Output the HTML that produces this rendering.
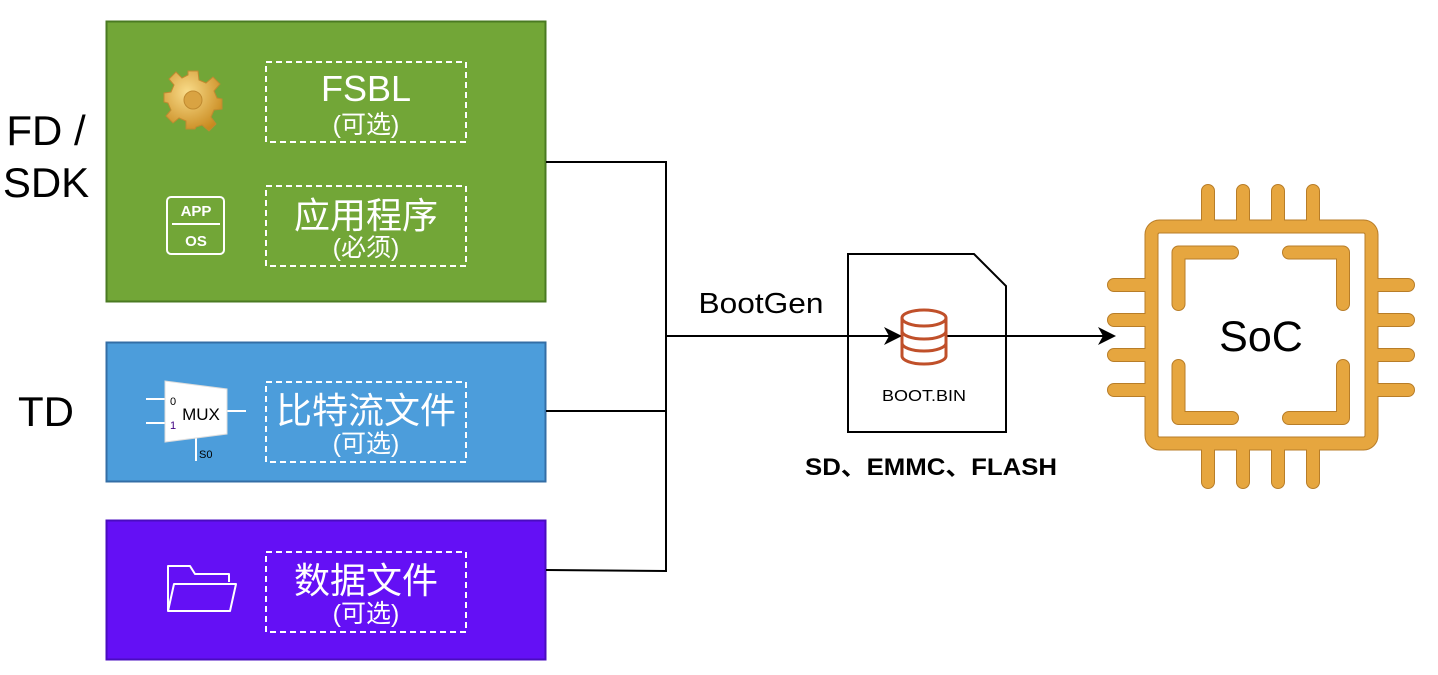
<!DOCTYPE html>
<html><head><meta charset="utf-8"><style>
body{margin:0;background:#fff;}
svg text{font-family:"Liberation Sans","Noto Sans CJK SC",sans-serif;}
</style></head><body>
<svg width="1438" height="670" viewBox="0 0 1438 670" xmlns="http://www.w3.org/2000/svg">
<defs>
<radialGradient id="g" cx="0.4" cy="0.35" r="0.7"><stop offset="0" stop-color="#f9dc8a"/><stop offset="1" stop-color="#c98a1f"/></radialGradient>
</defs>
<!-- left labels -->
<text x="46" y="145" font-size="42" text-anchor="middle">FD /</text>
<text x="46" y="197" font-size="42" text-anchor="middle">SDK</text>
<text x="46" y="426" font-size="42" text-anchor="middle">TD</text>
<!-- boxes -->
<rect x="106.5" y="21.5" width="439" height="280" fill="#72a637" stroke="#4a7a22" stroke-width="2"/>
<rect x="106.5" y="342.5" width="439" height="139" fill="#4c9ddb" stroke="#336ea6" stroke-width="2"/>
<rect x="106.5" y="520.5" width="439" height="139" fill="#6410f5" stroke="#4a0cc0" stroke-width="2"/>
<g fill="none" stroke="#fff" stroke-width="2" stroke-dasharray="6,4">
<rect x="266" y="62" width="200" height="80"/>
<rect x="266" y="186" width="200" height="80"/>
<rect x="266" y="382" width="200" height="80"/>
<rect x="266" y="552" width="200" height="80"/>
</g>
<g fill="#fff" text-anchor="middle">
<text x="366" y="101" font-size="36">FSBL</text>
<text x="366" y="133" font-size="25">(可选)</text>
<text x="366" y="228" font-size="36">应用程序</text>
<text x="366" y="256" font-size="25">(必须)</text>
<text x="366" y="423" font-size="36">比特流文件</text>
<text x="366" y="452" font-size="25">(可选)</text>
<text x="366" y="593" font-size="36">数据文件</text>
<text x="366" y="622" font-size="25">(可选)</text>
</g>
<!-- gear -->
<g transform="translate(193,100)">
<g fill="url(#g)" stroke="#c08a30" stroke-width="1">
<path d="M-5,-29 L5,-29 L6,-20 L13,-17 L20,-23 L27,-16 L21,-9 L24,-2 L29,-1 L29,9 L21,10 L18,17 L23,24 L16,31 L9,25 L3,27 L2,29 L-7,29 L-7,21 L-14,18 L-20,23 L-27,16 L-22,10 L-25,3 L-29,2 L-29,-7 L-22,-8 L-19,-15 L-24,-21 L-17,-28 L-11,-22 L-5,-25 Z"/>
<circle cx="0" cy="0" r="9" fill="#d9a342"/>
</g></g>
<!-- APP/OS -->
<rect x="167" y="197" width="57" height="57" rx="4" fill="none" stroke="#fff" stroke-width="2"/>
<text x="196" y="216" font-size="15" font-weight="bold" fill="#fff" text-anchor="middle">APP</text>
<line x1="172" y1="224" x2="220" y2="224" stroke="#fff" stroke-width="2"/>
<text x="196" y="246" font-size="15" font-weight="bold" fill="#fff" text-anchor="middle">OS</text>
<!-- MUX -->
<g stroke="#fff" stroke-width="2"><line x1="146" y1="399" x2="166" y2="399"/><line x1="146" y1="423" x2="166" y2="423"/><line x1="227" y1="411" x2="246" y2="411"/><line x1="196" y1="438" x2="196" y2="461"/></g>
<polygon points="165,381 227,389 227,434 165,442" fill="#fff" stroke="#ddd"/>
<text x="170" y="405" font-size="11" fill="#000">0</text>
<text x="170" y="429" font-size="11" fill="#400080">1</text>
<text x="201" y="420" font-size="17" fill="#000" text-anchor="middle">MUX</text>
<text x="199" y="458" font-size="11" fill="#000">S0</text>
<!-- folder -->
<path d="M168,611 L168,566 L190,566 L195,574 L229,574 L229,582 M168,611 L174,584 L236,584 L230,611 Z" fill="none" stroke="#fff" stroke-width="2" stroke-linejoin="round"/>
<!-- connectors -->
<g stroke="#000" stroke-width="2" fill="none">
<polyline points="546,162 666,162 666,571 546,570"/>
<line x1="546" y1="411" x2="666" y2="411"/>
<line x1="666" y1="336" x2="1105" y2="336"/>
</g>
<path d="M884,327 L902,336 L884,345 L889,336 Z" fill="#000"/>
<path d="M1098,327 L1116,336 L1098,345 L1103,336 Z" fill="#000"/>
<text x="761" y="313" font-size="29" text-anchor="middle" textLength="125" lengthAdjust="spacingAndGlyphs">BootGen</text>
<!-- doc -->
<path d="M848,254 L974,254 L1006,286 L1006,432 L848,432 Z" fill="none" stroke="#000" stroke-width="2"/>
<line x1="848" y1="336" x2="1006" y2="336" stroke="#000" stroke-width="2"/>
<g fill="#fff" stroke="#c0502a" stroke-width="3">
<path d="M902,318 L902,356 A22,8 0 0 0 946,356 L946,318"/>
<ellipse cx="924" cy="318" rx="22" ry="8"/>
<path d="M902,331 A22,8 0 0 0 946,331 M902,343 A22,8 0 0 0 946,343" fill="none"/>
</g>
<text x="924" y="401" font-size="16" text-anchor="middle" textLength="84" lengthAdjust="spacingAndGlyphs">BOOT.BIN</text>
<text x="931" y="475" font-size="24" font-weight="bold" text-anchor="middle" textLength="252" lengthAdjust="spacingAndGlyphs">SD、EMMC、FLASH</text>
<!-- chip -->
<g stroke="#b87d28" stroke-width="14" stroke-linecap="round" fill="none">
<path d="M1208,191 V222 M1243,191 V222 M1278,191 V222 M1313,191 V222 M1208,450 V482 M1243,450 V482 M1278,450 V482 M1313,450 V482 M1114,285 H1146 M1114,320 H1146 M1114,355 H1146 M1114,390 H1146 M1377,285 H1408 M1377,320 H1408 M1377,355 H1408 M1377,390 H1408"/>
<rect x="1151.5" y="226.5" width="220" height="217" rx="8"/>
<path d="M1178.5,304 V252.5 H1232 M1178.5,366 V418 H1232 M1343,304 V252.5 H1289 M1343,366 V418 H1289" stroke-linejoin="round"/>
</g>
<g stroke="#e6a63f" stroke-width="12" stroke-linecap="round" fill="none">
<path d="M1208,191 V222 M1243,191 V222 M1278,191 V222 M1313,191 V222 M1208,450 V482 M1243,450 V482 M1278,450 V482 M1313,450 V482 M1114,285 H1146 M1114,320 H1146 M1114,355 H1146 M1114,390 H1146 M1377,285 H1408 M1377,320 H1408 M1377,355 H1408 M1377,390 H1408"/>
<rect x="1151.5" y="226.5" width="220" height="217" rx="8"/>
<path d="M1178.5,304 V252.5 H1232 M1178.5,366 V418 H1232 M1343,304 V252.5 H1289 M1343,366 V418 H1289" stroke-linejoin="round"/>
</g>
<text x="1261" y="351" font-size="43" text-anchor="middle">SoC</text>
</svg>
</body></html>
